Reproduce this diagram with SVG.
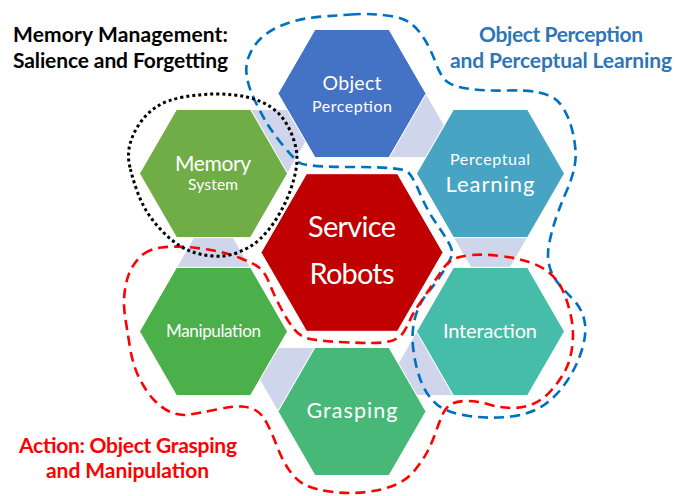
<svg xmlns="http://www.w3.org/2000/svg" width="689" height="496" viewBox="0 0 689 496">
<style>
.hex{stroke:#ffffff;stroke-width:1}
.con{fill:#CFD5EA;stroke:#ffffff;stroke-width:1}
.lbl{font-family:Lato,"Liberation Sans",sans-serif;fill:#ffffff;text-anchor:middle}
.ann{font-family:Lato,"Liberation Sans",sans-serif;font-weight:bold;font-size:21px}
.blob{fill:none;stroke-width:2.6;stroke-dasharray:10 6}
</style>
<rect width="689" height="496" fill="#ffffff"/>
<g id="connectors">
<polygon class="con" points="250.5,109.4 287.1,109.4 305.8,141.8 287.5,173.5"/>
<polygon class="con" points="426,93.5 444.3,125.2 425.6,157.6 389,157.6"/>
<polygon class="con" points="453.5,237.6 527.5,237.6 510.3,267.4 470.7,267.4"/>
<polygon class="con" points="416.5,331.5 453.5,395.6 416.9,395.6 398.2,363.2"/>
<polygon class="con" points="315,347.4 278.4,347.4 259.7,379.8 278,411.5"/>
<polygon class="con" points="176.5,267.4 250.5,267.4 233.3,237.6 193.7,237.6"/>
</g>
<g id="object-perception">
<polygon class="hex" fill="#4472C4" points="278,93.5 315,29.4 389,29.4 426,93.5 389,157.6 315,157.6"/>
<text class="lbl" x="352" y="90" font-size="19.5" textLength="59">Object</text>
<text class="lbl" x="352" y="112" font-size="16" textLength="80">Perception</text>
</g>
<g id="memory-system">
<polygon class="hex" fill="#70AD47" points="139.5,173.5 176.5,109.4 250.5,109.4 287.5,173.5 250.5,237.6 176.5,237.6"/>
<text class="lbl" x="213" y="171" font-size="21" textLength="76">Memory</text>
<text class="lbl" x="213" y="190" font-size="15.5" textLength="50">System</text>
</g>
<g id="perceptual-learning">
<polygon class="hex" fill="#47A4C3" points="416.5,173.5 453.5,109.4 527.5,109.4 564.5,173.5 527.5,237.6 453.5,237.6"/>
<text class="lbl" x="490" y="165" font-size="16" textLength="80">Perceptual</text>
<text class="lbl" x="490" y="192" font-size="22" textLength="89">Learning</text>
</g>
<g id="manipulation">
<polygon class="hex" fill="#4BB04A" points="139.5,331.5 176.5,267.4 250.5,267.4 287.5,331.5 250.5,395.6 176.5,395.6"/>
<text class="lbl" x="213.5" y="337" font-size="17" textLength="95">Manipulation</text>
</g>
<g id="interaction">
<polygon class="hex" fill="#45BDA8" points="416.5,331.5 453.5,267.4 527.5,267.4 564.5,331.5 527.5,395.6 453.5,395.6"/>
<text class="lbl" x="490" y="338" font-size="20" textLength="94">Interaction</text>
</g>
<g id="grasping">
<polygon class="hex" fill="#48B878" points="278,411.5 315,347.4 389,347.4 426,411.5 389,475.6 315,475.6"/>
<text class="lbl" x="352" y="418" font-size="21.5" textLength="91">Grasping</text>
</g>
<g id="service-robots">
<polygon class="hex" fill="#C00000" points="261,252.5 306.5,173.7 397.5,173.7 443,252.5 397.5,331.3 306.5,331.3"/>
<text class="lbl" x="352" y="237" font-size="29" textLength="88">Service</text>
<text class="lbl" x="352" y="284" font-size="29" textLength="85">Robots</text>
</g>
<g id="groups">
<path id="perception-group" class="blob" stroke="#0070C0" d="M351,14.5 Q357,14 367,14 Q377,14 390.5,16 Q404,18 411.5,24 Q419,30 425,40 Q431,50 436,63.5 Q441,77 447.5,82 Q454,87 470.5,89 Q487,91 507,90.5 Q527,90 539,92.5 Q551,95 557.5,101 Q564,107 569,120 Q574,133 575.5,150 Q577,167 567,190 Q557,213 552.5,229.5 Q548,246 548,254.5 Q548,263 551,271 Q554,279 560.5,286 Q567,293 574.5,301 Q582,309 584.5,321 Q587,333 582,349.5 Q577,366 567,381 Q557,396 544,405 Q531,414 511,416.5 Q491,419 469,416 Q447,413 437,404.5 Q427,396 421.5,382.5 Q416,369 413.5,351 Q411,333 415,318 Q419,303 427.5,293 Q436,283 443.5,271 Q451,259 452,254.5 Q453,250 448,241.5 Q443,233 435,221.5 Q427,210 420,193.5 Q413,177 408,172 Q403,167 354,167 Q305,167 299,162.5 Q293,158 283,145.5 Q273,133 268,125 Q263,117 255.5,102 Q248,87 246.5,73.5 Q245,60 254,46.5 Q263,33 281.5,25.5 Q300,18 322.5,16.5 Q345,15 351,14.5 Z"/>
<path id="action-group" class="blob" stroke="#FF0000" d="M143.5,254 Q150,249 161.5,247.5 Q173,246 186.5,247 Q200,248 213.5,250.5 Q227,253 240,258 Q253,263 259,267.5 Q265,272 269.5,283.5 Q274,295 280.5,307.5 Q287,320 293.5,328.5 Q300,337 310,339 Q320,341 340,342 Q360,343 372.5,343 Q385,343 392.5,340.5 Q400,338 404,331.5 Q408,325 410.5,319 Q413,313 420,303 Q427,293 433.5,283 Q440,273 444,267.5 Q448,262 454,259 Q460,256 472,255 Q484,254 500.5,256 Q517,258 529,262 Q541,266 549,272.5 Q557,279 562,289 Q567,299 570.5,314 Q574,329 572.5,344 Q571,359 566,369 Q561,379 552.5,389 Q544,399 534,403.5 Q524,408 512.5,408 Q501,408 489,404.5 Q477,401 467,401 Q457,401 451.5,404 Q446,407 443,413.5 Q440,420 436,431.5 Q432,443 427.5,451.5 Q423,460 415,470 Q407,480 395,485 Q383,490 366.5,492 Q350,494 333.5,492 Q317,490 307.5,486 Q298,482 290.5,472 Q283,462 277.5,447.5 Q272,433 267,423.5 Q262,414 256,410.5 Q250,407 241.5,406.5 Q233,406 216.5,409.5 Q200,413 190,414.5 Q180,416 171.5,412.5 Q163,409 155,401 Q147,393 140,379.5 Q133,366 130,347.5 Q127,329 125,316 Q123,303 125,289.5 Q127,276 132,267.5 Q137,259 143.5,254 Z"/>
<path id="memory-group" fill="none" stroke="#000000" stroke-width="3" stroke-dasharray="3 3" d="M130,167.5 Q127,155 130,144 Q133,133 140,123 Q147,113 157,106.5 Q167,100 183.5,97 Q200,94 216.5,94 Q233,94 246.5,97 Q260,100 270,106.5 Q280,113 286,123 Q292,133 295,144 Q298,155 296.5,166 Q295,177 291,188.5 Q287,200 281,211 Q275,222 267.5,231 Q260,240 252.5,245 Q245,250 235,253.5 Q225,257 212.5,256 Q200,255 190,251 Q180,247 170,238.5 Q160,230 151.5,218.5 Q143,207 138,193.5 Q133,180 130,167.5 Z"/>
</g>
<g id="annotations">
<text class="ann" x="13" y="42" fill="#000000" textLength="215">Memory Management:</text>
<text class="ann" x="13" y="68" fill="#000000" textLength="215">Salience and Forgetting</text>
<text class="ann" x="561" y="42" fill="#2E75B6" text-anchor="middle" textLength="164">Object Perception</text>
<text class="ann" x="561" y="68" fill="#2E75B6" text-anchor="middle" textLength="222">and Perceptual Learning</text>
<text class="ann" x="128" y="453" fill="#FF0000" text-anchor="middle" textLength="218">Action: Object Grasping</text>
<text class="ann" x="127.5" y="478" fill="#FF0000" text-anchor="middle" textLength="163">and Manipulation</text>
</g>
</svg>
